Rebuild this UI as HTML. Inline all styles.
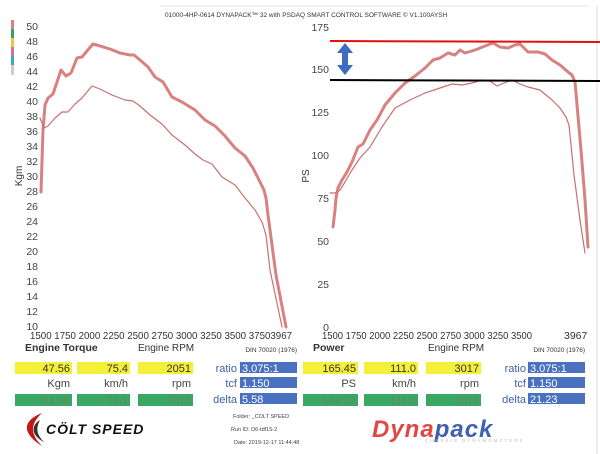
<!DOCTYPE html>
<html><head><meta charset="utf-8"><style>
body{margin:0;background:#fff;width:600px;height:454px;overflow:hidden;font-family:"Liberation Sans",sans-serif}
svg{display:block}
</style></head><body>
<svg width="600" height="454" viewBox="0 0 600 454" font-family="Liberation Sans, sans-serif">
<rect width="600" height="454" fill="#fff"/>
<line x1="160" y1="6" x2="588" y2="6" stroke="#e4e4e4"/>
<line x1="597" y1="6" x2="597" y2="454" stroke="#ddd"/>
<text x="165" y="17" font-size="6.5" fill="#333">01000-4HP-0614 DYNAPACK™ 32 with PSDAQ SMART CONTROL SOFTWARE © V1.100AYSH</text>
<rect x="11" y="20" width="3" height="9" fill="#d98080"/>
<rect x="11" y="29" width="3" height="9" fill="#3aa070"/>
<rect x="11" y="38" width="3" height="9" fill="#e8c84a"/>
<rect x="11" y="47" width="3" height="9" fill="#d070a0"/>
<rect x="11" y="56" width="3" height="9" fill="#40a8c0"/>
<rect x="11" y="65" width="3" height="10" fill="#ccc"/>
<g font-size="10.5" fill="#444" text-anchor="end">
<text x="38" y="30">50</text><text x="38" y="45">48</text><text x="38" y="60">46</text><text x="38" y="75">44</text><text x="38" y="90">42</text><text x="38" y="105">40</text><text x="38" y="120">38</text><text x="38" y="135">36</text><text x="38" y="150">34</text><text x="38" y="165">32</text><text x="38" y="180">30</text><text x="38" y="195">28</text><text x="38" y="210">26</text><text x="38" y="225">24</text><text x="38" y="240">22</text><text x="38" y="255">20</text><text x="38" y="270">18</text><text x="38" y="285">16</text><text x="38" y="300">14</text><text x="38" y="315">12</text><text x="38" y="330">10</text>
</g>
<text transform="translate(22,176) rotate(-90)" font-size="10" fill="#333" text-anchor="middle">Kgm</text>
<text x="30" y="339" font-size="10.5" fill="#333" textLength="262" lengthAdjust="spacingAndGlyphs">1500 1750 2000 2250 2500 2750 3000 3250 3500 37503967</text>
<g font-size="10.5" fill="#444" text-anchor="end">
<text x="329" y="31">175</text><text x="329" y="73">150</text><text x="329" y="116">125</text><text x="329" y="159">100</text><text x="329" y="202">75</text><text x="329" y="245">50</text><text x="329" y="288">25</text><text x="329" y="331">0</text>
</g>
<text transform="translate(309,176) rotate(-90)" font-size="10" fill="#333" text-anchor="middle">PS</text>
<text x="322" y="339" font-size="10.5" fill="#333" textLength="210" lengthAdjust="spacingAndGlyphs">1500 1750 2000 2250 2500 2750 3000 3250 3500</text>
<text x="564" y="339" font-size="10.5" fill="#333">3967</text>
<g fill="none" stroke-linejoin="round" stroke-linecap="round">
<polyline stroke="#d98080" stroke-width="3" points="41,192 43,130 45,105 48,98 53,94 57,82 61,70 66,76 71,73 77,58 82,57 87,51 93,44 100,46 110,49 120,53 130,55 134,55 140,60 148,67 155,77 163,82 172,97 182,102 195,110 205,120 215,126 225,136 235,148 245,156 253,168 258,178 264,190 266,198 268,215 276,275 286,327"/>
<polyline stroke="#c87070" stroke-width="1.2" points="40,118 44,128 48,126 55,118 62,112 68,112 75,104 82,98 92,86 100,89 112,95 125,100 133,101 140,106 150,115 162,124 172,135 185,145 195,154 203,160 212,164 222,177 235,185 245,198 255,210 262,222 266,235 270,270 282,327"/>
<polyline stroke="#d98080" stroke-width="3" points="333,227 335,210 336,198 338,188 342,180 347,172 352,162 358,147 363,144 370,130 377,120 385,105 395,93 405,83 415,76 425,68 433,60 440,58 448,53 455,55 460,50 465,53 475,50 485,46 493,43 500,47 508,48 515,45 520,44 528,52 538,52 545,54 552,60 560,65 568,72 572,75 575,82 581,150 585,200 588,247"/>
<polyline stroke="#c87070" stroke-width="1.2" points="330,193 335,193 340,190 345,182 352,170 360,158 370,147 382,127 395,108 410,100 425,93 440,88 452,84 462,85 472,83 482,80 490,81 497,86 504,83 512,80 520,84 528,87 540,90 552,100 560,108 566,117 569,125 574,175 580,220 585,253"/>
</g>
<line x1="330" y1="41" x2="600" y2="42" stroke="#e01010" stroke-width="2"/>
<line x1="330" y1="80" x2="600" y2="81" stroke="#000" stroke-width="2"/>
<polygon points="345,43 353,53 348,53 348,65 353,65 345,75 337,65 342,65 342,53 337,53" fill="#3d6cc0"/>
<text x="25" y="351" font-size="10.5" font-weight="bold" fill="#333">Engine Torque</text>
<text x="138" y="351" font-size="10" fill="#333">Engine RPM</text>
<text x="297" y="352" font-size="6.5" fill="#333" text-anchor="end">DIN 70020 (1976)</text>
<g font-size="11">
<rect x="15" y="362" width="57" height="12" fill="#f4f03a"/><text x="70" y="372" text-anchor="end" fill="#333">47.56</text>
<rect x="77" y="362" width="53" height="12" fill="#f4f03a"/><text x="128" y="372" text-anchor="end" fill="#333">75.4</text>
<rect x="138" y="362" width="55" height="12" fill="#f4f03a"/><text x="191" y="372" text-anchor="end" fill="#333">2051</text>
<text x="70" y="387" text-anchor="end" fill="#444">Kgm</text><text x="128" y="387" text-anchor="end" fill="#444">km/h</text><text x="191" y="387" text-anchor="end" fill="#444">rpm</text>
<rect x="15" y="394" width="57" height="12" fill="#3aa765"/><text x="70" y="404" text-anchor="end" fill="#5e8a66">41.98</text>
<rect x="77" y="394" width="53" height="12" fill="#3aa765"/><text x="128" y="404" text-anchor="end" fill="#5e8a66">74.1</text>
<rect x="138" y="394" width="55" height="12" fill="#3aa765"/><text x="191" y="404" text-anchor="end" fill="#5e8a66">2016</text>
<text x="237" y="372" text-anchor="end" fill="#4060a8">ratio</text><rect x="240" y="362" width="57" height="11" fill="#4a70c0"/><text x="242" y="372" fill="#fff">3.075:1</text>
<text x="237" y="387" text-anchor="end" fill="#4060a8">tcf</text><rect x="240" y="377" width="57" height="11" fill="#4a70c0"/><text x="242" y="387" fill="#fff">1.150</text>
<text x="237" y="403" text-anchor="end" fill="#4060a8">delta</text><rect x="240" y="393" width="57" height="11" fill="#4a70c0"/><text x="242" y="403" fill="#fff">5.58</text>
</g>
<g font-size="5.5" fill="#444"><text x="233" y="418">Folder: _COLT SPEED</text><text x="231" y="431">Run ID: D6-tdf15-2</text><text x="234" y="444">Date: 2019-12-17 11:44:48</text></g>
<path d="M42,413 C24,420 20,432 42,446 C30,434 30,424 42,413Z" fill="#c01818"/>
<path d="M40,420 C30,426 32,436 44,442 C36,434 36,428 40,420Z" fill="#333"/>
<text x="46" y="434" font-size="14" font-weight="bold" font-style="italic" fill="#111" letter-spacing="1">CÖLT SPEED</text>
<text x="313" y="351" font-size="10.5" font-weight="bold" fill="#333">Power</text>
<text x="428" y="351" font-size="10" fill="#333">Engine RPM</text>
<text x="585" y="352" font-size="6.5" fill="#333" text-anchor="end">DIN 70020 (1976)</text>
<g font-size="11">
<rect x="303" y="362" width="55" height="12" fill="#f4f03a"/><text x="356" y="372" text-anchor="end" fill="#333">165.45</text>
<rect x="364" y="362" width="54" height="12" fill="#f4f03a"/><text x="416" y="372" text-anchor="end" fill="#333">111.0</text>
<rect x="426" y="362" width="55" height="12" fill="#f4f03a"/><text x="479" y="372" text-anchor="end" fill="#333">3017</text>
<text x="356" y="387" text-anchor="end" fill="#444">PS</text><text x="416" y="387" text-anchor="end" fill="#444">km/h</text><text x="479" y="387" text-anchor="end" fill="#444">rpm</text>
<rect x="303" y="394" width="55" height="12" fill="#3aa765"/><text x="356" y="404" text-anchor="end" fill="#5e8a66">144.22</text>
<rect x="364" y="394" width="54" height="12" fill="#3aa765"/><text x="416" y="404" text-anchor="end" fill="#5e8a66">111.0</text>
<rect x="426" y="394" width="55" height="12" fill="#3aa765"/><text x="479" y="404" text-anchor="end" fill="#5e8a66">3019</text>
<text x="526" y="372" text-anchor="end" fill="#4060a8">ratio</text><rect x="528" y="362" width="57" height="11" fill="#4a70c0"/><text x="530" y="372" fill="#fff">3.075:1</text>
<text x="526" y="387" text-anchor="end" fill="#4060a8">tcf</text><rect x="528" y="377" width="57" height="11" fill="#4a70c0"/><text x="530" y="387" fill="#fff">1.150</text>
<text x="526" y="403" text-anchor="end" fill="#4060a8">delta</text><rect x="528" y="393" width="57" height="11" fill="#4a70c0"/><text x="530" y="403" fill="#fff">21.23</text>
</g>
<text x="372" y="437" font-size="24" font-weight="bold" font-style="italic" fill="#e04848" letter-spacing="1">Dyna<tspan fill="#4060b0">pack</tspan></text>
<text x="425" y="442" font-size="4.5" fill="#bbb" letter-spacing="2">CHASSIS DYNAMOMETERS</text>
</svg>
</body></html>
